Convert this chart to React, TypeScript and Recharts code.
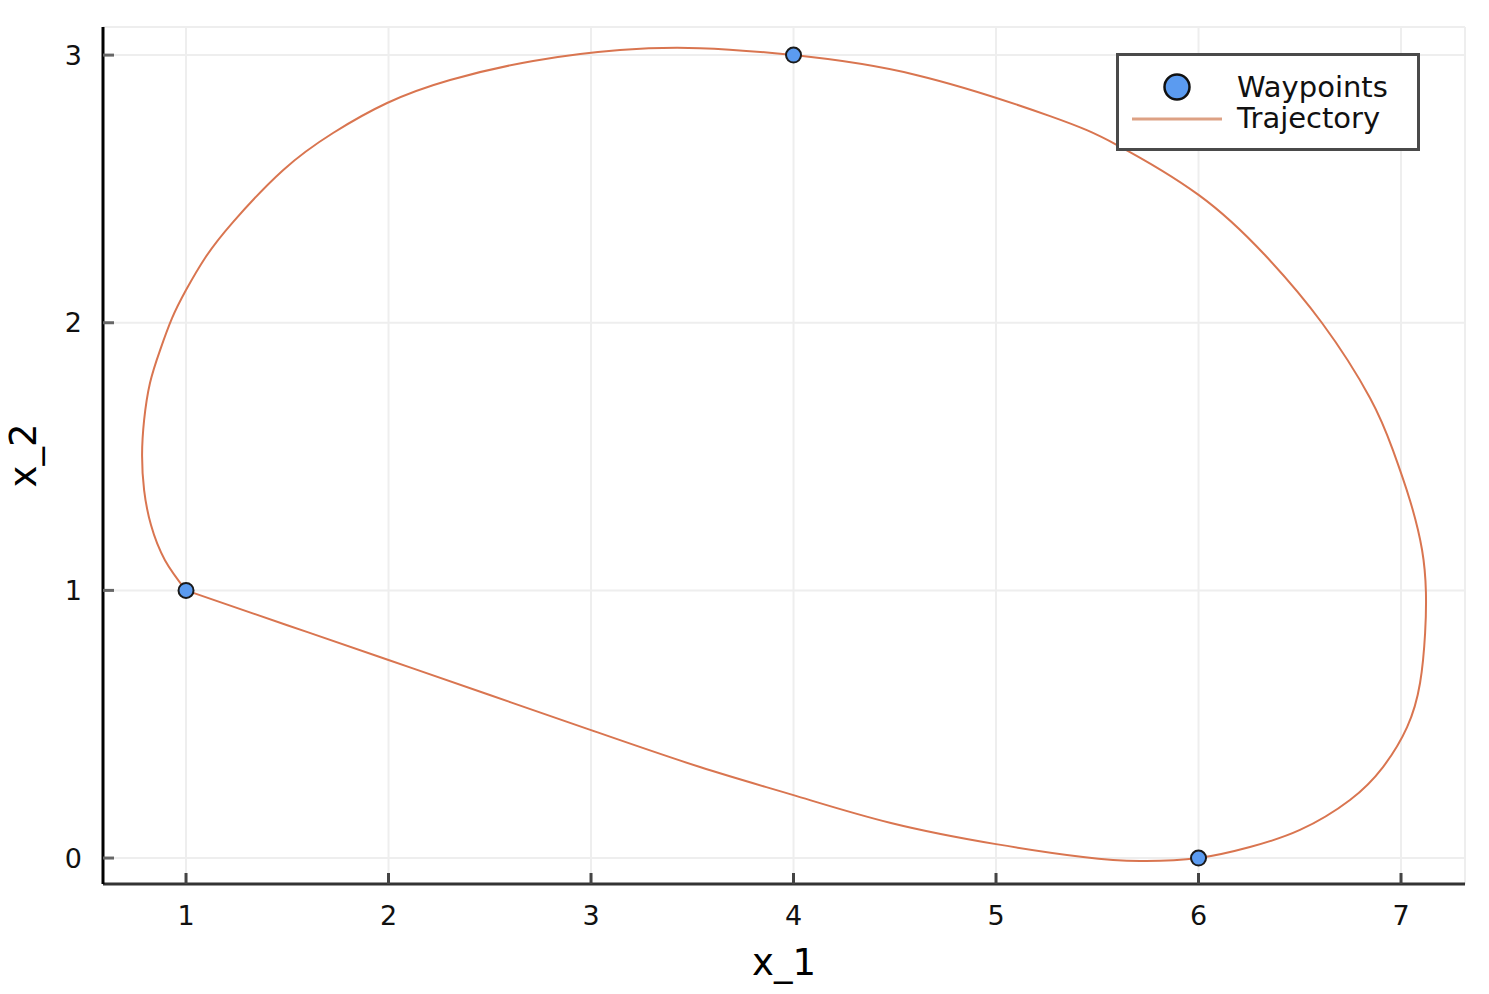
import {
  ScatterChart,
  Scatter,
  XAxis,
  YAxis,
  CartesianGrid,
  Legend,
} from "recharts";

// waypoints the trajectory passes through
const waypointX = [1, 4, 6];
const waypointY = [1, 3, 0];

// trajectory, starts and ends at (1, 1)
const trajectoryX = [
  1.0, 0.896, 0.827, 0.793, 0.783, 0.793, 0.822, 0.872, 0.931, 1.0, 1.094,
  1.232, 1.479, 1.726, 1.993, 2.304, 2.714, 3.143, 3.538, 4.0, 4.61, 5.267,
  5.598, 6.002, 6.328, 6.61, 6.847, 6.96, 7.044, 7.104, 7.123, 7.119, 7.094,
  7.03, 6.911, 6.748, 6.501, 6.254, 6.0, 5.711, 5.43, 5.0, 4.481, 4.0, 3.538,
  3.0, 2.5, 2.0, 1.5, 1.0,
];
const trajectoryY = [
  1.0, 1.113, 1.244, 1.375, 1.506, 1.636, 1.775, 1.898, 2.017, 2.122, 2.242,
  2.376, 2.57, 2.709, 2.821, 2.907, 2.978, 3.019, 3.026, 3.0, 2.925, 2.772,
  2.664, 2.477, 2.253, 1.999, 1.719, 1.524, 1.337, 1.151, 0.994, 0.841, 0.654,
  0.489, 0.34, 0.217, 0.105, 0.041, 0.0, -0.011, 0.004, 0.052, 0.131, 0.235,
  0.34, 0.478, 0.609, 0.74, 0.87, 1.0,
];

const xTicks = [1, 2, 3, 4, 5, 6, 7];
const yTicks = [0, 1, 2, 3];

const BLUE = "#5b9bf0";
const ORANGE = "#d97550";
const FONT = "'DejaVu Sans', sans-serif";

const waypoints = waypointX.map((x, i) => ({ x, y: waypointY[i] }));
const trajectory = trajectoryX.map((x, i) => ({ x, y: trajectoryY[i] }));

const WaypointDot = (props: any) => {
  const { cx, cy } = props;
  return <circle cx={cx} cy={cy} r={7.5} fill={BLUE} stroke="#1a1a1a" strokeWidth={2} />;
};

const NoDot = () => <g />;

const renderLegend = () => (
  <svg width={304} height={98} style={{ display: "block" }}>
    <rect x={1.5} y={1.5} width={301} height={95} fill="#fff" stroke="#4a4a4a" strokeWidth={3} />
    <circle cx={61} cy={34} r={12.5} fill={BLUE} stroke="#111" strokeWidth={2.5} />
    <line x1={16} y1={66} x2={106} y2={66} stroke="#dda184" strokeWidth={3} />
    <text x={121} y={44} fontSize={29} fontFamily={FONT} fill="#111">
      Waypoints
    </text>
    <text x={121} y={75} fontSize={29} fontFamily={FONT} fill="#111">
      Trajectory
    </text>
  </svg>
);

const App = () => {
  return (
    <div style={{ margin: -8, width: 1489, height: 994, background: "#fff" }}>
      <ScatterChart
        width={1489}
        height={994}
        margin={{ top: 27, right: 24, bottom: 10, left: 0 }}
      >
        <CartesianGrid stroke="#eeeeee" strokeWidth={2} />
        <XAxis
          type="number"
          dataKey="x"
          domain={[0.59, 7.316]}
          allowDataOverflow
          ticks={xTicks}
          interval={0}
          height={100}
          tickSize={-11}
          tickMargin={33}
          tick={{ fill: "#111", fontSize: 27, fontFamily: FONT }}
          tickLine={{ stroke: "#444", strokeWidth: 3 }}
          axisLine={{ stroke: "#333", strokeWidth: 3 }}
          label={{
            value: "x_1",
            position: "insideBottom",
            offset: 9,
            fill: "#000",
            fontSize: 37,
            fontFamily: FONT,
          }}
        />
        <YAxis
          type="number"
          dataKey="y"
          domain={[-0.097, 3.105]}
          allowDataOverflow
          ticks={yTicks}
          interval={0}
          width={103}
          tickSize={-11}
          tickMargin={32}
          tick={{ fill: "#111", fontSize: 27, fontFamily: FONT }}
          tickLine={{ stroke: "#666", strokeWidth: 3 }}
          axisLine={{ stroke: "#000", strokeWidth: 3 }}
          label={{
            value: "x_2",
            angle: -90,
            position: "insideLeft",
            offset: 23,
            fill: "#000",
            fontSize: 37,
            fontFamily: FONT,
            style: { textAnchor: "middle" },
          }}
        />
        <Legend
          layout="vertical"
          align="center"
          verticalAlign="middle"
          content={renderLegend}
          wrapperStyle={{ left: 1116, top: 53, width: 304, height: 98 }}
        />
        <Scatter
          name="Trajectory"
          data={trajectory}
          line={{ stroke: ORANGE, strokeWidth: 2 }}
          lineJointType="natural"
          shape={NoDot}
          isAnimationActive={false}
        />
        <Scatter
          name="Waypoints"
          data={waypoints}
          shape={WaypointDot}
          isAnimationActive={false}
        />
      </ScatterChart>
    </div>
  );
};

export default App;
